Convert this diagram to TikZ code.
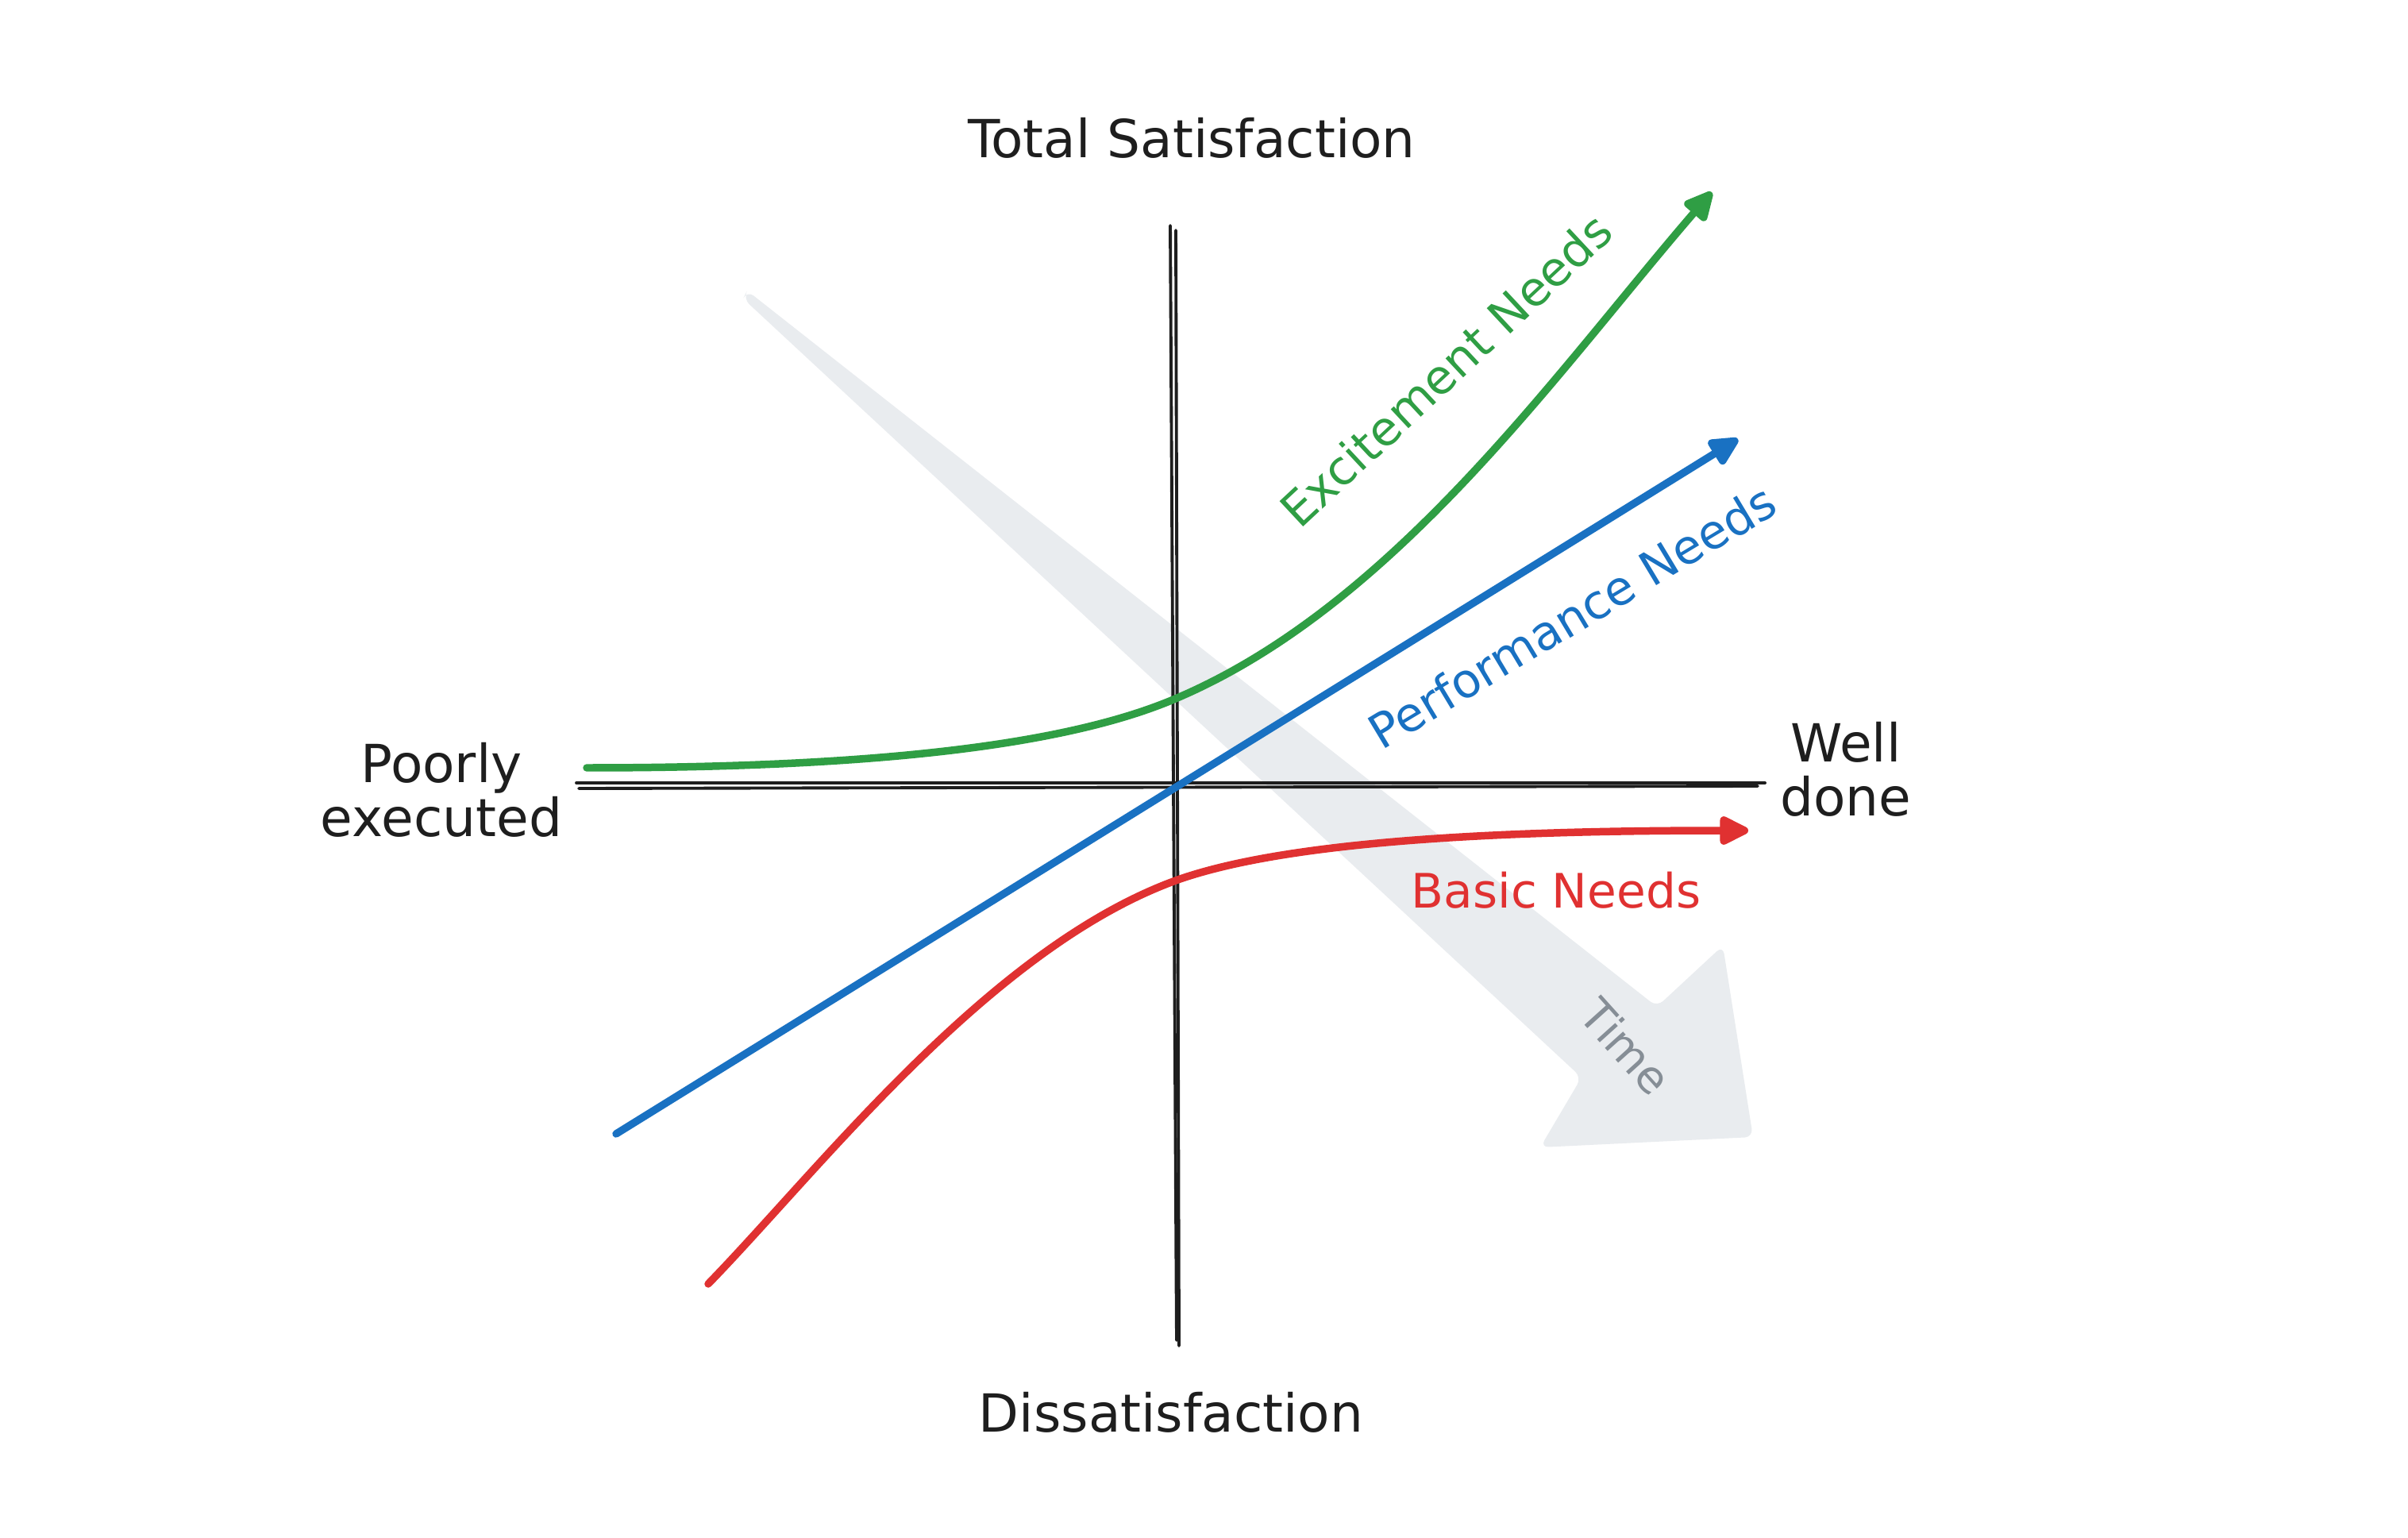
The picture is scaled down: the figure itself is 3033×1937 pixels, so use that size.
\documentclass[tikz,border=0pt]{standalone}
\usepackage{fontspec}
\setmainfont{DejaVu Sans}
\usetikzlibrary{arrows.meta}
\definecolor{ink}{HTML}{1E1E1E}
\definecolor{exgreen}{HTML}{2F9E44}
\definecolor{pfblue}{HTML}{1971C2}
\definecolor{bsred}{HTML}{E03131}
\definecolor{timefill}{HTML}{E9ECEF}
\definecolor{timetext}{HTML}{868E96}
\begin{document}
\begin{tikzpicture}[x=0.01cm,y=-0.01cm,
  axisline/.style={draw=ink, line width=1.1pt, line cap=round},
  needline/.style={line width=2.7pt, line cap=round, line join=round,
    -{Triangle[length=12pt,width=11pt,round]}},
  lbl/.style={font=\fontsize{18.8}{19.5}\selectfont, text=ink, inner sep=0pt, align=center},
  clbl/.style={font=\fontsize{17}{20}\selectfont, inner sep=0pt},
]
\useasboundingbox[fill=white] (0,0) rectangle (3033,1937);

% time arrow (background)
\fill[timefill, rounded corners=3pt] (936,376) -- (941,366) -- (2087,1268) -- (2170,1191)
  -- (2208,1432) -- (1940,1445) -- (1992,1357) -- cycle;
\node[clbl, text=timetext, rotate=-48, font=\fontsize{16}{18}\selectfont] (time) at (2048,1318) {Time};

% axes
\coordinate (hL1) at (726,986);  \coordinate (hR1) at (2223,986);
\coordinate (hL2) at (729,993);  \coordinate (hR2) at (2214,990);
\coordinate (vT1) at (1474,284); \coordinate (vB1) at (1482,1688);
\coordinate (vT2) at (1481,290); \coordinate (vB2) at (1485,1695);
\draw[axisline] (hL1) -- (hR1);
\draw[axisline] (hL2) -- (hR2);
\draw[axisline] (vT1) -- (vB1);
\draw[axisline] (vT2) -- (vB2);

% performance needs (blue)
\coordinate (b0) at (776,1428);
\coordinate (b1) at (2189,553);
\draw[needline, pfblue] (b0) -- (b1);

% excitement needs (green)
\coordinate (g0) at (739,967);
\coordinate (g1) at (1478,881);
\coordinate (g2) at (2156,242);
\draw[needline, exgreen] (g0) .. controls (1100,967) and (1340,939) .. (g1)
  .. controls (1755,765) and (1960,469) .. (g2);

% basic needs (red)
\coordinate (r0) at (892,1617);
\coordinate (r1) at (1478,1110);
\coordinate (r2) at (2202,1046);
\draw[needline, bsred] (r0) .. controls (1032,1473) and (1244,1197) .. (r1)
  .. controls (1619,1058) and (1900,1046) .. (r2);

% labels
\node[lbl, anchor=base] (top) at (1501,199) {Total Satisfaction};
\node[lbl, anchor=base] (bottom) at (1475,1803) {Dissatisfaction};
\node[lbl] (poor) at (556,995) {Poorly\\executed};
\node[lbl] (well) at (2325,969) {Well\\done};
\node[clbl, text=exgreen, rotate=43] (exc) at (1821,466) {Excitement Needs};
\node[clbl, text=pfblue, rotate=31] (perf) at (1980,776) {Performance Needs};
\node[clbl, text=bsred, anchor=base] (basic) at (1960,1143) {Basic Needs};
\end{tikzpicture}
\end{document}
